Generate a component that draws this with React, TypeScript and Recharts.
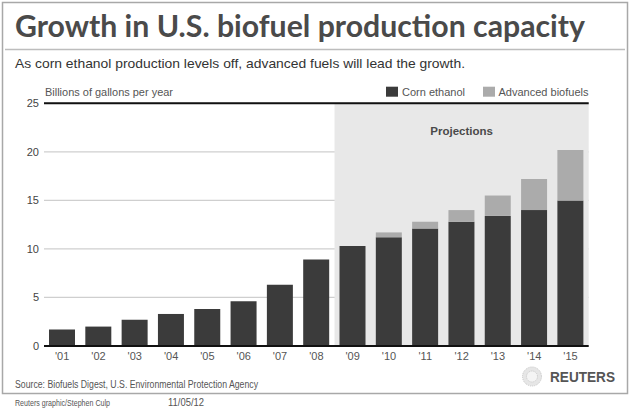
import React from "react";
import {
  BarChart,
  Bar,
  XAxis,
  YAxis,
  CartesianGrid,
  ReferenceArea,
  ReferenceLine,
} from "recharts";

const years = ["'01", "'02", "'03", "'04", "'05", "'06", "'07", "'08", "'09", "'10", "'11", "'12", "'13", "'14", "'15"];
const cornEthanol = [1.7, 2.0, 2.7, 3.3, 3.8, 4.6, 6.3, 8.9, 10.3, 11.2, 12.1, 12.8, 13.4, 14.0, 15.0];
const advancedBiofuels = [0, 0, 0, 0, 0, 0, 0, 0, 0, 0.5, 0.7, 1.2, 2.1, 3.2, 5.2];
const yTicks = [0, 5, 10, 15, 20, 25];
const projectionStart = "'09";
const projectionEnd = "'15";

const data = years.map((y, i) => ({ year: y, corn: cornEthanol[i], adv: advancedBiofuels[i] }));

const FONT = "'Liberation Sans', Arial, sans-serif";
const CORN = "#3b3b3b";
const ADV = "#ababab";

export default function App() {
  return (
    <div style={{ position: "absolute", left: 0, top: 0, width: 630, height: 411, background: "#fff", overflow: "hidden" }}>
      <div style={{ position: "absolute", left: 0, top: 0 }}>
        <BarChart
          width={630}
          height={411}
          data={data}
          margin={{ top: 103.3, right: 41.3, bottom: 35, left: 14 }}
        >
          <ReferenceArea
            x1={projectionStart}
            x2={projectionEnd}
            y1={0}
            y2={25}
            ifOverflow="visible"
            fill="#e8e8e8"
            fillOpacity={1}
            stroke="none"
            label={{ value: "Projections", position: "insideTop", offset: 24, fill: "#4a4a4a", fontSize: 11.5, fontWeight: 700, fontFamily: FONT }}
          />
          <CartesianGrid vertical={false} stroke="#cfcfcf" strokeWidth={1.2} />
          <XAxis
            dataKey="year"
            height={30}
            tickSize={0}
            tickMargin={6}
            tickLine={false}
            axisLine={false}
            tick={{ fill: "#555", fontSize: 11, fontFamily: FONT }}
            interval={0}
          />
          <YAxis
            width={30}
            domain={[0, 25]}
            ticks={yTicks}
            tickSize={0}
            tickMargin={5}
            tickLine={false}
            axisLine={false}
            tick={{ fill: "#444", fontSize: 11, fontFamily: FONT }}
          />
          <Bar dataKey="corn" stackId="a" fill={CORN} barSize={26} isAnimationActive={false} />
          <Bar dataKey="adv" stackId="a" fill={ADV} barSize={26} isAnimationActive={false} />
          <ReferenceLine y={25} stroke="#111" strokeWidth={2} />
          <ReferenceLine y={0} stroke="#111" strokeWidth={2} />
        </BarChart>
      </div>
      <svg width={630} height={411} style={{ position: "absolute", left: 0, top: 0, pointerEvents: "none" }}>
        <rect x={2.5} y={2.5} width={625} height={391} fill="none" stroke="#a8a8a8" strokeWidth={1.5} />
        <text x={15} y={36.7} fontFamily="Lato, 'Open Sans', sans-serif" fontWeight={700} fontSize={31} fill="#4a4a4a" textLength={570} lengthAdjust="spacingAndGlyphs">
          Growth in U.S. biofuel production capacity
        </text>
        <line x1={5} x2={625} y1={49.5} y2={49.5} stroke="#bdbdbd" strokeWidth={1.5} />
        <text x={15} y={67.8} fontFamily={FONT} fontSize={13} fill="#333" textLength={450} lengthAdjust="spacingAndGlyphs">
          As corn ethanol production levels off, advanced fuels will lead the growth.
        </text>
        <text x={45} y={95.5} fontFamily={FONT} fontSize={11} fill="#555" textLength={128} lengthAdjust="spacingAndGlyphs">
          Billions of gallons per year
        </text>
        <rect x={386} y={86.7} width={12} height={10} fill={CORN} />
        <text x={402} y={95.5} fontFamily={FONT} fontSize={11} fill="#555" textLength={63} lengthAdjust="spacingAndGlyphs">
          Corn ethanol
        </text>
        <rect x={483} y={86.7} width={12} height={10} fill={ADV} />
        <text x={498.5} y={95.5} fontFamily={FONT} fontSize={11} fill="#555" textLength={90} lengthAdjust="spacingAndGlyphs">
          Advanced biofuels
        </text>
        <text x={15} y={388} fontFamily={FONT} fontSize={10} fill="#555" textLength={243} lengthAdjust="spacingAndGlyphs">
          Source: Biofuels Digest, U.S. Environmental Protection Agency
        </text>
        <circle cx={532} cy={376.5} r={9.5} fill="#e6e6e6" stroke="#c4c4c4" strokeWidth={1} strokeDasharray="1 1" />
        <circle cx={532} cy={376.5} r={5.5} fill="#f4f4f4" stroke="#c8c8c8" strokeWidth={1} strokeDasharray="1 1" />
        <text x={550} y={382} fontFamily={FONT} fontWeight={700} fontSize={15.5} fill="#555" textLength={65} lengthAdjust="spacingAndGlyphs">
          REUTERS
        </text>
        <text x={15} y={406} fontFamily={FONT} fontSize={9.5} fill="#555" textLength={95} lengthAdjust="spacingAndGlyphs">
          Reuters graphic/Stephen Culp
        </text>
        <text x={168} y={406} fontFamily={FONT} fontSize={10} fill="#555" textLength={36} lengthAdjust="spacingAndGlyphs">
          11/05/12
        </text>
      </svg>
    </div>
  );
}
